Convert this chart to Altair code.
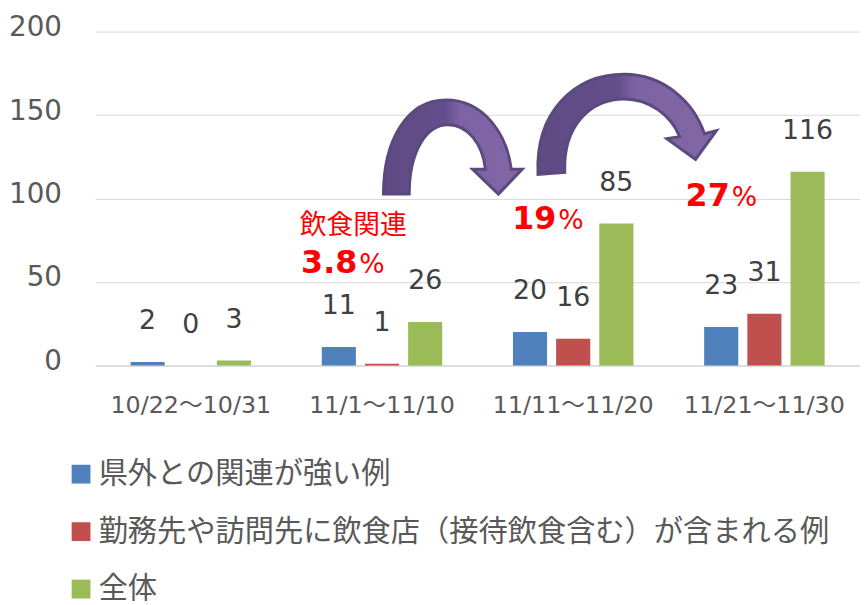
import altair as alt
import pandas as pd

categories = ["10/22〜10/31", "11/1〜11/10", "11/11〜11/20", "11/21〜11/30"]
series = ["県外との関連が強い例", "勤務先や訪問先に飲食店（接待飲食含む）が含まれる例", "全体"]
colors = ["#4F81BD", "#C0504D", "#9BBB59"]
v_pref = [2, 11, 20, 23]
v_food = [0, 1, 16, 31]
v_all = [3, 26, 85, 116]

ann_cats = ["11/1〜11/10", "11/11〜11/20", "11/21〜11/30"]
ann_nums = ["3.8", "19", "27"]
ann_y = [55.2, 81.9, 95.5]
ann_dx = [-25, -17, -35]

rows = []
for s, vals in zip(series, [v_pref, v_food, v_all]):
    for c, v in zip(categories, vals):
        rows.append({"cat": c, "series": s, "value": v})
df = pd.DataFrame(rows)

FONT = "DejaVu Sans, Noto Sans CJK JP"
JP = "Noto Sans CJK JP"

x = alt.X("cat:N", sort=categories,
          scale=alt.Scale(paddingInner=0.37, paddingOuter=0.185),
          axis=alt.Axis(title=None, labelAngle=0, labelFontSize=24, labelFont=FONT,
                        labelColor="#595959", ticks=False, domainColor="#D9D9D9",
                        labelPadding=29, grid=False))
xo = alt.XOffset("series:N", sort=series, scale=alt.Scale(paddingInner=0.21, paddingOuter=0))
y = alt.Y("value:Q", scale=alt.Scale(domain=[0, 200]),
          axis=alt.Axis(title=None, values=[0, 50, 100, 150, 200], labelFontSize=28,
                        labelFont="DejaVu Sans", labelColor="#595959", ticks=False,
                        domain=False, gridColor="#D9D9D9", labelPadding=34, labelOffset=-4))

bars = alt.Chart(df).mark_bar().encode(
    x=x, xOffset=xo, y=y,
    color=alt.Color("series:N", sort=series,
                    scale=alt.Scale(domain=series, range=colors),
                    legend=alt.Legend(title=None, orient="none", legendX=-29, legendY=432,
                                      direction="vertical", symbolType="square",
                                      symbolSize=361, symbolStrokeWidth=0,
                                      labelFontSize=29.5, labelFont=JP, labelColor="#595959",
                                      labelOffset=3, rowPadding=27, labelLimit=900)),
)

labels = alt.Chart(df).mark_text(
    fontSize=27, font="DejaVu Sans", color="#404040", baseline="alphabetic", dy=-33
).encode(x=alt.X("cat:N", sort=categories), xOffset=xo, y="value:Q", text="value:Q")

ann = pd.DataFrame({"cat": ann_cats, "y": ann_y, "num": ann_nums, "dx": ann_dx})

num_layers = []
for i in range(len(ann)):
    sub = ann.iloc[[i]]
    num_layers.append(alt.Chart(sub).mark_text(
        fontSize=32, font="DejaVu Sans", fontWeight="bold", color="#FF0000",
        align="right", baseline="alphabetic", dx=float(ann_dx[i])
    ).encode(x=alt.X("cat:N", sort=categories), y="y:Q", text="num:N"))
    num_layers.append(alt.Chart(sub).mark_text(
        fontSize=27, font="DejaVu Sans", color="#FF0000",
        align="left", baseline="alphabetic", dx=float(ann_dx[i]) + 2
    ).encode(x=alt.X("cat:N", sort=categories), y="y:Q", text=alt.value("%")))

food_df = pd.DataFrame({"cat": ["11/1〜11/10"], "y": [83.5], "t": ["飲食関連"]})
food = alt.Chart(food_df).mark_text(
    fontSize=27, font=JP, color="#FF0000", align="center", baseline="middle", dx=-29
).encode(x=alt.X("cat:N", sort=categories), y="y:Q", text="t:N")

# decorative curved block arrows: path relative to an anchor point
def rel(path_pts, ax, ay):
    out = []
    for tok in path_pts:
        if isinstance(tok, str):
            out.append(tok)
        else:
            out.append(f"{tok[0]-ax:.1f},{tok[1]-ay:.1f}")
    return " ".join(out)

A1 = (385.5, 366 - 130 * 1.685)
A2 = (578.5, 366 - 130 * 1.685)
arrow1 = rel(["M", (387, 193), "C", (387, 140), (410, 98), (450, 98),
              "C", (490, 98), (512, 135), (516, 168), "L", (527, 168), "L", (503, 193),
              "L", (477, 168), "L", (490, 168), "C", (487, 142), (472, 123), (452, 123),
              "C", (430, 123), (413, 150), (413, 193), "Z"], *A1)
arrow2 = rel(["M", (543, 173), "C", (540, 110), (580, 72), (630, 72),
              "C", (670, 72), (700, 100), (711, 132), "L", (723, 129), "L", (702, 158),
              "L", (673, 137), "L", (686, 135), "C", (677, 113), (655, 97), (630, 97),
              "C", (595, 97), (568, 125), (570, 171), "Z"], *A2)

grad = alt.LinearGradient(
    gradient="linear", x1=0, y1=0, x2=1, y2=0,
    stops=[alt.GradientStop(offset=0, color="#5F4A84"),
           alt.GradientStop(offset=0.45, color="#654E8C"),
           alt.GradientStop(offset=0.55, color="#7E63A4"),
           alt.GradientStop(offset=1, color="#8266A6")])

arr_df = pd.DataFrame({"cat": ["11/1〜11/10", "11/11〜11/20"], "y": [130, 130]})
arrows = []
for i, p in enumerate([arrow1, arrow2]):
    arrows.append(alt.Chart(arr_df.iloc[[i]]).mark_point(
        shape=p, size=4, filled=True, fill=grad, stroke="#5A4A7E",
        strokeWidth=3, opacity=1
    ).encode(x=alt.X("cat:N", sort=categories), y="y:Q"))

chart = alt.layer(bars, labels, food, *num_layers, *arrows).properties(
    width=772, height=337,
    autosize=alt.AutoSizeParams(type="none"),
    padding={"left": 88, "top": 21, "right": 0, "bottom": 239},
).configure_view(stroke=None).configure_axisX(domainWidth=1.5)

chart.save("out.html", embed_options={"renderer": "svg", "actions": False})
